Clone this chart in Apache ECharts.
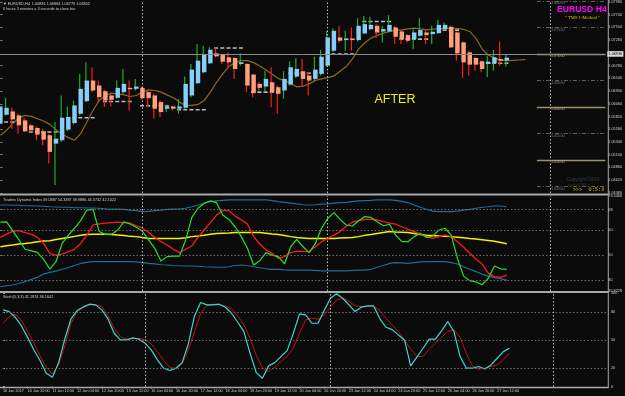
<!DOCTYPE html>
<html><head><meta charset="utf-8">
<script src="https://cdn.jsdelivr.net/npm/echarts@6/dist/echarts.min.js"></script>
<style>html,body{margin:0;padding:0;background:#0b0b0b;}#c{width:625px;height:396px;}</style>
</head><body><div id="c"></div>
<script>
// ---------- data ----------
const timeLabels = ["10 Jan 2017","10 Jan 20:00","11 Jan 12:00","12 Jan 04:00","12 Jan 20:00","13 Jan 12:00","16 Jan 04:00","16 Jan 20:00","17 Jan 12:00","18 Jan 04:00","18 Jan 20:00","19 Jan 12:00","20 Jan 04:00","20 Jan 20:00","23 Jan 12:00","24 Jan 04:00","24 Jan 20:00","25 Jan 12:00","26 Jan 04:00","26 Jan 20:00","27 Jan 12:00"];
const timeTickBars = [0,4,8,12,16,20,24,28,32,36,40,44,48,52,56,60,64,68,72,76,80];
const separatorBars = [23, 53, 89];

// [open, high, low, close]
const candles = [
[1.05684,1.06247,1.05653,1.06009],[1.05853,1.06172,1.05840,1.05984],[1.05915,1.05984,1.05590,1.05765],[1.05840,1.05872,1.05496,1.05653],
[1.05746,1.05797,1.05527,1.05540],[1.05653,1.05684,1.05527,1.05559],[1.05602,1.05634,1.05371,1.05477],[1.05540,1.05590,1.05277,1.05383],
[1.05465,1.05496,1.04933,1.05152],[1.05308,1.05715,1.04526,1.05402],[1.05371,1.06216,1.05340,1.05797],[1.05571,1.06009,1.05546,1.05809],
[1.05696,1.06122,1.05671,1.06028],[1.05872,1.06623,1.05840,1.06341],[1.06109,1.06842,1.06091,1.06498],[1.06498,1.06748,1.06279,1.06310],
[1.06404,1.06498,1.06091,1.06185],[1.06297,1.06322,1.05997,1.06122],[1.06216,1.06247,1.06009,1.06135],[1.06172,1.06498,1.06153,1.06360],
[1.06279,1.06717,1.06247,1.06435],[1.06360,1.06498,1.05934,1.06335],[1.06341,1.06529,1.06310,1.06385],[1.06360,1.06385,1.06135,1.06166],
[1.06279,1.06310,1.05997,1.06166],[1.06216,1.06247,1.05777,1.05966],[1.06091,1.06122,1.05809,1.05903],[1.05966,1.06047,1.05903,1.06009],
[1.06009,1.06028,1.05934,1.05966],[1.05966,1.06153,1.05872,1.06009],[1.05984,1.06573,1.05966,1.06435],[1.06216,1.06811,1.06185,1.06704],
[1.06448,1.07186,1.06435,1.06873],[1.06654,1.07155,1.06635,1.06980],[1.06823,1.07124,1.06811,1.07080],[1.07011,1.07124,1.06936,1.06955],
[1.06980,1.06998,1.06811,1.06854],[1.06936,1.07030,1.06748,1.06842],[1.06923,1.06936,1.06529,1.06717],[1.06811,1.07011,1.06779,1.06842],
[1.06811,1.06823,1.06279,1.06404],[1.06610,1.06623,1.06185,1.06260],[1.06435,1.06466,1.06310,1.06360],[1.06385,1.06685,1.06279,1.06529],
[1.06466,1.06748,1.05997,1.06279],[1.06372,1.06404,1.05872,1.06247],[1.06310,1.06673,1.06153,1.06529],[1.06422,1.06861,1.06404,1.06748],
[1.06573,1.06923,1.06548,1.06717],[1.06673,1.06905,1.06385,1.06529],[1.06592,1.06654,1.06216,1.06498],[1.06529,1.06948,1.06485,1.06704],
[1.06623,1.07074,1.06592,1.06948],[1.06779,1.07437,1.06761,1.07311],[1.07061,1.07487,1.07030,1.07437],[1.07311,1.07531,1.07218,1.07249],
[1.07261,1.07437,1.07061,1.07293],[1.07293,1.07499,1.07061,1.07261],[1.07261,1.07674,1.07236,1.07531],[1.07387,1.07718,1.07374,1.07562],
[1.07468,1.07700,1.07449,1.07549],[1.07531,1.07562,1.07299,1.07405],[1.07424,1.07531,1.07218,1.07468],[1.07424,1.07731,1.07405,1.07549],
[1.07499,1.07531,1.07186,1.07324],[1.07424,1.07449,1.07186,1.07280],[1.07355,1.07374,1.07218,1.07249],[1.07280,1.07468,1.07092,1.07405],
[1.07343,1.07674,1.07324,1.07449],[1.07405,1.07468,1.07186,1.07355],[1.07374,1.07531,1.07186,1.07418],[1.07393,1.07643,1.07374,1.07549],
[1.07468,1.07593,1.07449,1.07549],[1.07512,1.07531,1.07111,1.07124],[1.07405,1.07424,1.06873,1.07011],[1.07218,1.07236,1.06548,1.06842],
[1.07030,1.07061,1.06592,1.06798],[1.06923,1.06948,1.06685,1.06798],[1.06861,1.06873,1.06654,1.06717],[1.06811,1.06967,1.06560,1.06854],
[1.06823,1.07074,1.06685,1.06936],[1.06905,1.07236,1.06779,1.06873],[1.06879,1.06980,1.06761,1.06930]
];
const lastPrice = 1.06930;

const maValues = [
1.05465,1.05559,1.05684,1.05796,1.05840,1.05822,1.05777,1.05734,1.05671,1.05571,
1.05483,1.05421,1.05371,1.05496,1.05715,1.05934,1.06122,1.06216,1.06260,1.06247,
1.06228,1.06197,1.06216,1.06279,1.06322,1.06310,1.06279,1.06228,1.06172,1.06091,
1.06028,1.06028,1.06047,1.06122,1.06279,1.06466,1.06623,1.06767,1.06836,1.06873,
1.06873,1.06836,1.06773,1.06698,1.06617,1.06535,1.06498,1.06441,1.06379,1.06391,
1.06435,1.06498,1.06529,1.06554,1.06585,1.06673,1.06761,1.06905,1.07092,1.07211,
1.07299,1.07349,1.07393,1.07424,1.07443,1.07455,1.07474,1.07487,1.07474,1.07455,
1.07468,1.07474,1.07487,1.07487,1.07480,1.07462,1.07424,1.07293,1.07092,1.06980,
1.06923,1.06879,1.06873,1.06879,1.06886,1.06892
];

// [startBar, endBar, price]
const levelSegments = [
[0,2,1.05715],[5,9,1.05527],[11,15,1.05797],[17,21,1.06103],[23,27,1.06022],[29,33,1.05947],
[35,39,1.07111],[41,45,1.06279],[47,51,1.06635],[53,57,1.06998],[59,63,1.07612],[65,69,1.07280],
[72,74,1.07449],[78,82,1.06823]
];

const roundLevels = [1.08000,1.07500,1.07000,1.06500,1.06000,1.05500,1.05000,1.04500];
const roundLevelMajor = [false,false,true,false,true,false,true,false];

const priceTicks = [1.04380,1.04620,1.04860,1.05100,1.05340,1.05580,1.05820,1.06060,1.06300,1.06540,1.06780,1.07260,1.07500,1.07740,1.07980];

// Traders Dynamic Index
const tdiUpper = [69.8,69.8,69.7,69.7,69.5,69.5,69.4,69.3,69.1,69.0,68.9,68.9,68.7,68.7,68.6,68.6,68.5,68.3,68.2,68.2,
68.1,67.8,67.6,67.2,67.3,67.6,67.8,68.1,68.2,68.3,68.5,69.1,69.8,70.5,71.1,71.4,71.6,71.8,71.8,71.8,
71.8,71.8,71.8,71.8,71.5,71.1,70.8,70.5,70.2,69.9,69.8,69.9,70.1,70.2,70.5,70.7,70.8,71.1,71.4,71.5,
71.6,71.8,71.8,71.8,71.6,71.2,70.7,69.8,68.9,68.1,67.4,67.2,67.2,67.2,67.4,67.8,68.1,68.5,68.9,69.1,
69.4,69.4,69.1];
const tdiLower = [37.5,37.9,38.2,38.8,39.5,40.4,41.2,42.5,43.2,43.7,44.4,45.0,45.9,46.7,47.1,47.4,47.4,47.4,47.4,47.4,
47.4,47.4,47.3,47.0,46.7,46.5,46.2,46.1,45.9,45.8,45.7,45.7,45.6,45.4,45.3,45.2,45.2,45.4,45.9,46.1,
45.8,45.4,45.0,44.6,44.4,44.4,44.2,44.1,44.1,44.1,44.1,44.0,43.8,43.8,43.8,43.8,43.8,44.0,44.1,44.1,
44.4,45.2,45.9,46.7,47.0,46.9,46.7,47.0,47.3,47.4,47.4,47.4,47.4,47.0,46.5,45.4,44.4,43.5,42.5,41.7,
41.1,40.7,40.0];
const tdiBase = [53.3,53.7,54.0,54.4,54.6,54.9,55.3,55.6,55.7,56.2,56.6,57.0,57.4,57.8,58.1,58.2,58.2,58.2,58.1,57.9,
57.7,57.4,57.3,57.0,56.6,56.6,56.6,56.6,56.6,56.6,56.9,57.3,57.5,57.8,58.2,58.5,58.6,58.7,58.9,58.9,
58.9,58.9,58.9,58.6,58.3,58.1,57.7,57.3,57.0,56.8,56.6,56.6,56.6,56.6,56.6,56.8,56.9,57.0,57.3,57.8,
58.1,58.5,58.9,59.3,59.1,59.0,58.9,58.5,58.1,57.8,57.7,57.5,57.4,57.3,57.1,56.9,56.6,56.4,56.1,55.8,
55.5,55.0,54.5];
const tdiRsi = [63.0,63.1,59.7,56.0,52.3,51.7,51.1,48.3,44.5,47.4,54.6,57.9,60.6,63.6,67.8,68.1,59.3,58.2,58.2,59.9,
63.1,62.3,61.0,59.4,56.0,52.7,47.7,49.4,49.6,49.6,56.0,64.9,68.5,70.5,71.4,70.7,65.8,64.1,61.2,57.3,
52.7,46.1,47.8,51.0,50.0,49.4,46.5,53.3,56.2,53.3,51.0,54.6,60.6,64.5,66.8,64.1,61.9,61.5,63.6,65.2,
64.9,63.2,61.6,62.2,57.9,55.3,55.3,57.3,58.6,57.0,57.5,59.9,60.6,57.9,48.7,41.7,39.9,39.4,38.3,40.8,
45.7,44.6,44.4];
const tdiSignal = [57.0,58.3,59.4,59.7,58.9,58.2,57.0,54.6,50.7,50.0,50.4,51.4,52.3,54.6,57.9,61.9,62.3,62.6,62.8,63.0,
62.8,62.6,61.6,60.6,58.9,57.0,55.3,54.0,52.3,51.0,52.3,53.6,57.0,59.9,62.8,65.8,67.6,67.6,65.4,63.9,
62.3,57.3,54.4,52.0,50.7,48.7,49.4,51.0,51.6,51.5,51.4,53.3,55.3,56.6,57.9,59.3,61.5,63.0,63.6,64.1,
64.1,63.9,63.2,62.6,62.2,61.2,60.2,59.3,58.3,57.3,56.6,57.3,57.9,57.3,55.3,53.1,50.7,48.5,46.5,42.8,
41.5,41.2,42.1];
const tdiLevels = [40, 50, 60, 68];
const tdiRange = [35.8228, 73.3466];

// Stochastic
const stochMain = [82.2,80.4,74.3,65.0,52.5,39.3,27.9,14.3,10.0,25.7,50.8,72.5,81.5,85.4,88.3,87.6,82.2,72.5,57.2,50.0,
50.0,52.2,50.8,46.5,39.3,28.6,19.7,17.2,19.7,25.7,45.7,75.8,90.1,87.6,87.6,88.3,85.1,78.6,69.0,59.0,
35.7,15.0,8.9,22.2,25.7,32.2,38.6,57.2,77.9,76.8,67.9,67.9,81.5,94.7,99.4,94.7,87.6,80.4,85.1,86.5,
86.5,72.9,63.6,61.1,55.4,50.0,22.2,31.5,41.1,50.8,50.8,59.7,69.7,59.0,32.2,19.7,19.7,21.5,18.9,23.2,
30.4,37.5,41.2];
const stochSignal = [67.9,75.1,77.6,70.8,59.0,46.5,32.9,20.7,13.6,23.2,43.6,67.9,80.4,84.7,87.6,87.6,85.8,75.8,62.5,53.6,
50.8,51.5,51.8,50.0,45.7,37.5,27.9,20.4,19.7,24.0,39.3,59.0,78.6,87.2,88.3,87.6,86.5,83.3,75.8,66.1,
51.8,33.7,19.7,16.1,20.7,26.8,32.9,41.1,57.2,71.5,73.3,72.2,76.8,85.1,92.9,94.7,91.5,86.5,85.8,85.8,
86.1,81.5,73.3,66.1,59.0,50.0,40.4,32.2,32.2,40.0,46.5,52.9,59.0,60.8,52.9,35.7,22.2,18.6,19.7,21.5,
23.2,28.6,36.2];
const stochLevels = [20, 50, 80];
const stochTicks = [0, 20, 50, 80, 100];

// ---------- layout / style ----------
const X_MIN = -0.065, X_MAX = 97.94;
const PRICE_MIN = 1.04376, PRICE_MAX = 1.08000;
const LEVEL_START = 86.87;
const SMALL = 3.8;
const FONT = '"Liberation Sans", Arial, sans-serif';
const TXT = '#cfcfcf';
const GRIDC = '#6c6c6c';

const idx = arr => arr.map((v, i) => [i, v]);

const chart = echarts.init(document.getElementById('c'), null, {renderer: 'canvas'});

function xAxisFor(g, showLabels) {
  return {
    type: 'value', gridIndex: g, min: X_MIN, max: X_MAX,
    axisLine: {show: false}, splitLine: {show: false},
    axisTick: showLabels ? {show: true, customValues: timeTickBars, length: 2, lineStyle: {color: '#9a9a9a', width: 1}} : {show: false},
    axisLabel: showLabels ? {
      show: true, customValues: timeTickBars, align: 'left', margin: 2.5,
      color: TXT, fontSize: SMALL, fontFamily: FONT,
      formatter: v => timeLabels[timeTickBars.indexOf(Math.round(v))] || ''
    } : {show: false}
  };
}

const sepLines = separatorBars.map(b => ({xAxis: b, lineStyle: {color: '#bdbdbd', type: [1.5, 2], width: 1}}));

const roundLevelLines = roundLevels.map((p, k) => [
  {
    coord: [LEVEL_START, p],
    lineStyle: roundLevelMajor[k] ? {color: '#9c9270', width: 1.3, type: 'solid'} : {color: '#5e5e5e', width: 1, type: [4, 2, 1, 2]},
    label: {show: true, position: 'insideStartBottom', distance: [14, 0.5], formatter: p.toFixed(5),
      color: roundLevelMajor[k] ? '#b8aa7a' : '#7a7a7a', fontSize: SMALL, fontFamily: FONT}
  },
  {coord: [X_MAX, p]}
]);

const option = {
  animation: false,
  backgroundColor: '#0b0b0b',
  grid: [
    {left: 0, right: 17, top: 0, height: 193},
    {left: 0, right: 17, top: 196, height: 95},
    {left: 0, right: 17, top: 293.3, height: 93.3}
  ],
  xAxis: [xAxisFor(0, false), xAxisFor(1, false), xAxisFor(2, true)],
  yAxis: [
    {
      type: 'value', gridIndex: 0, position: 'right', min: PRICE_MIN, max: PRICE_MAX,
      axisLine: {show: false}, splitLine: {show: false},
      axisTick: {show: true, customValues: priceTicks, length: 2, lineStyle: {color: '#9a9a9a'}},
      axisLabel: {customValues: priceTicks, formatter: v => v.toFixed(5), color: TXT, fontSize: SMALL, fontFamily: FONT, margin: 3}
    },
    {
      type: 'value', gridIndex: 1, position: 'right', min: tdiRange[0], max: tdiRange[1],
      axisLine: {show: false}, splitLine: {show: false},
      axisTick: {show: true, customValues: tdiLevels, length: 2, lineStyle: {color: '#9a9a9a'}},
      axisLabel: {customValues: [tdiRange[0]].concat(tdiLevels, [tdiRange[1]]),
        formatter: v => (Math.abs(v - tdiRange[0]) < 1e-6 || Math.abs(v - tdiRange[1]) < 1e-6) ? v.toFixed(4) : String(Math.round(v)),
        color: TXT, fontSize: SMALL, fontFamily: FONT, margin: 3}
    },
    {
      type: 'value', gridIndex: 2, position: 'right', min: 0, max: 100,
      axisLine: {show: false}, splitLine: {show: false},
      axisTick: {show: true, customValues: stochTicks, length: 2, lineStyle: {color: '#9a9a9a'}},
      axisLabel: {customValues: stochTicks, color: TXT, fontSize: SMALL, fontFamily: FONT, margin: 3}
    }
  ],
  series: [
    // moving average + main-panel reference lines
    {
      type: 'line', xAxisIndex: 0, yAxisIndex: 0, data: idx(maValues), showSymbol: false, z: 2,
      lineStyle: {color: '#8a6a1e', width: 1.2},
      markLine: {
        silent: true, symbol: ['none', 'none'], animation: false,
        data: sepLines.concat(roundLevelLines, [{
          yAxis: lastPrice, lineStyle: {color: '#8a8a8a', width: 1, type: 'solid'},
          label: {show: true, position: 'end', distance: 2, formatter: lastPrice.toFixed(5),
            backgroundColor: '#dcdcdc', color: '#000', fontSize: SMALL, fontFamily: FONT, padding: [0.8, 1.2]}
        }])
      }
    },
    // grey dashed segments
    {
      type: 'custom', xAxisIndex: 0, yAxisIndex: 0, z: 3,
      data: levelSegments,
      encode: {x: [0, 1], y: 2},
      renderItem: function (params, api) {
        const a = api.coord([api.value(0) - 0.4, api.value(2)]);
        const b = api.coord([api.value(1) + 0.4, api.value(2)]);
        return {type: 'line', shape: {x1: a[0], y1: a[1], x2: b[0], y2: b[1]},
          style: {stroke: '#bcbcbc', lineWidth: 1.6, lineDash: [4, 2.2]}};
      }
    },
    // candles
    {
      type: 'custom', xAxisIndex: 0, yAxisIndex: 0, z: 4,
      data: candles.map((c, i) => [i, c[0], c[1], c[2], c[3]]),
      encode: {x: 0, y: [1, 2, 3, 4]},
      renderItem: function (params, api) {
        const i = api.value(0), o = api.value(1), h = api.value(2), l = api.value(3), c = api.value(4);
        const pO = api.coord([i, o]), pC = api.coord([i, c]), pH = api.coord([i, h]), pL = api.coord([i, l]);
        const w = api.size([1, 0])[0] * 0.72;
        const bull = c >= o;
        const top = Math.min(pO[1], pC[1]);
        const hh = Math.max(Math.abs(pO[1] - pC[1]), 1);
        return {type: 'group', children: [
          {type: 'line', shape: {x1: pH[0] - 1, y1: pH[1], x2: pL[0] - 1, y2: pL[1]},
            style: {stroke: bull ? '#1fae1f' : '#ff1c1c', lineWidth: 1.2}},
          {type: 'rect', shape: {x: pO[0] - w / 2, y: top, width: w, height: hh},
            style: {fill: bull ? '#87cefa' : '#ffa07a'}}
        ]};
      }
    },
    // TDI
    {
      type: 'line', xAxisIndex: 1, yAxisIndex: 1, data: idx(tdiUpper), showSymbol: false,
      lineStyle: {color: '#1b6f9c', width: 1.2},
      markLine: {silent: true, symbol: ['none', 'none'], animation: false, label: {show: false},
        data: tdiLevels.map(v => ({yAxis: v, lineStyle: {color: GRIDC, type: [1.5, 2], width: 1}})).concat(sepLines)}
    },
    {type: 'line', xAxisIndex: 1, yAxisIndex: 1, data: idx(tdiLower), showSymbol: false, lineStyle: {color: '#1b6f9c', width: 1.2}},
    {type: 'line', xAxisIndex: 1, yAxisIndex: 1, data: idx(tdiBase), showSymbol: false, lineStyle: {color: '#f2f200', width: 1.5}},
    {type: 'line', xAxisIndex: 1, yAxisIndex: 1, data: idx(tdiSignal), showSymbol: false, lineStyle: {color: '#ff1a1a', width: 1.3}},
    {type: 'line', xAxisIndex: 1, yAxisIndex: 1, data: idx(tdiRsi), showSymbol: false, lineStyle: {color: '#28e028', width: 1.2}},
    // Stochastic
    {
      type: 'line', xAxisIndex: 2, yAxisIndex: 2, data: idx(stochSignal), showSymbol: false,
      lineStyle: {color: '#b81414', width: 1},
      markLine: {silent: true, symbol: ['none', 'none'], animation: false, label: {show: false},
        data: stochLevels.map(v => ({yAxis: v, lineStyle: {color: GRIDC, type: [1.5, 2], width: 1}})).concat(sepLines)}
    },
    {type: 'line', xAxisIndex: 2, yAxisIndex: 2, data: idx(stochMain), showSymbol: false, lineStyle: {color: '#3fd6cc', width: 1.2}}
  ],
  graphic: [
    {type: 'rect', shape: {x: 0, y: 193.5, width: 608.5, height: 2}, style: {fill: '#a9a9a9'}, silent: true},
    {type: 'rect', shape: {x: 0, y: 291, width: 608.5, height: 2}, style: {fill: '#a9a9a9'}, silent: true},
    {type: 'rect', shape: {x: 0, y: 386.8, width: 608.5, height: 1.4}, style: {fill: '#a9a9a9'}, silent: true},
    {type: 'rect', shape: {x: 607.8, y: 0, width: 1, height: 388}, style: {fill: '#a9a9a9'}, silent: true},
    {type: 'text', style: {text: '\u25BC EURUSD,H4  1.06836 1.06884 1.06779 1.06852', x: 3, y: 4.2, fill: TXT, font: SMALL + 'px ' + FONT, verticalAlign: 'middle', textVerticalAlign: 'middle'}},
    {type: 'text', style: {text: '0 hours 3 minutes a 3 seconds to close bar', x: 3, y: 9.2, fill: TXT, font: SMALL + 'px ' + FONT, verticalAlign: 'middle', textVerticalAlign: 'middle'}},
    {type: 'text', style: {text: 'EURUSD H4', x: 557, y: 10, fill: '#ff00ff', font: 'bold 8.6px ' + FONT, verticalAlign: 'middle', textVerticalAlign: 'middle'}},
    {type: 'text', style: {text: '" TMS 1-Method "', x: 565, y: 18, fill: '#d6c800', font: '4.6px "Liberation Serif", serif', verticalAlign: 'middle', textVerticalAlign: 'middle'}},
    {type: 'text', style: {text: 'AFTER', x: 395, y: 99.5, fill: '#f4f400', font: '12.5px ' + FONT, align: 'center', textAlign: 'center', verticalAlign: 'middle', textVerticalAlign: 'middle'}},
    {type: 'text', style: {text: 'Copyright\u00A92016', x: 567, y: 180, fill: '#3c3c3c', font: '4.5px ' + FONT, verticalAlign: 'middle', textVerticalAlign: 'middle'}},
    {type: 'text', style: {text: 'eurusdTMS', x: 568, y: 184.5, fill: '#333333', font: '3.6px ' + FONT, verticalAlign: 'middle', textVerticalAlign: 'middle'}},
    {type: 'text', style: {text: '>>>  0:5:3', x: 573, y: 190, fill: '#c8c000', font: '5.2px "DejaVu Sans Mono", monospace', verticalAlign: 'middle', textVerticalAlign: 'middle'}},
    {type: 'text', style: {text: 'Traders Dynamic Index 69.0887 54.3387 39.9886 44.3732 42.1022', x: 3, y: 199.5, fill: TXT, font: SMALL + 'px ' + FONT, verticalAlign: 'middle', textVerticalAlign: 'middle'}},
    {type: 'text', style: {text: 'Stoch(5,3,3) 41.1874 36.1642', x: 3, y: 297, fill: TXT, font: SMALL + 'px ' + FONT, verticalAlign: 'middle', textVerticalAlign: 'middle'}}
  ]
};
chart.setOption(option);
</script></body></html>
